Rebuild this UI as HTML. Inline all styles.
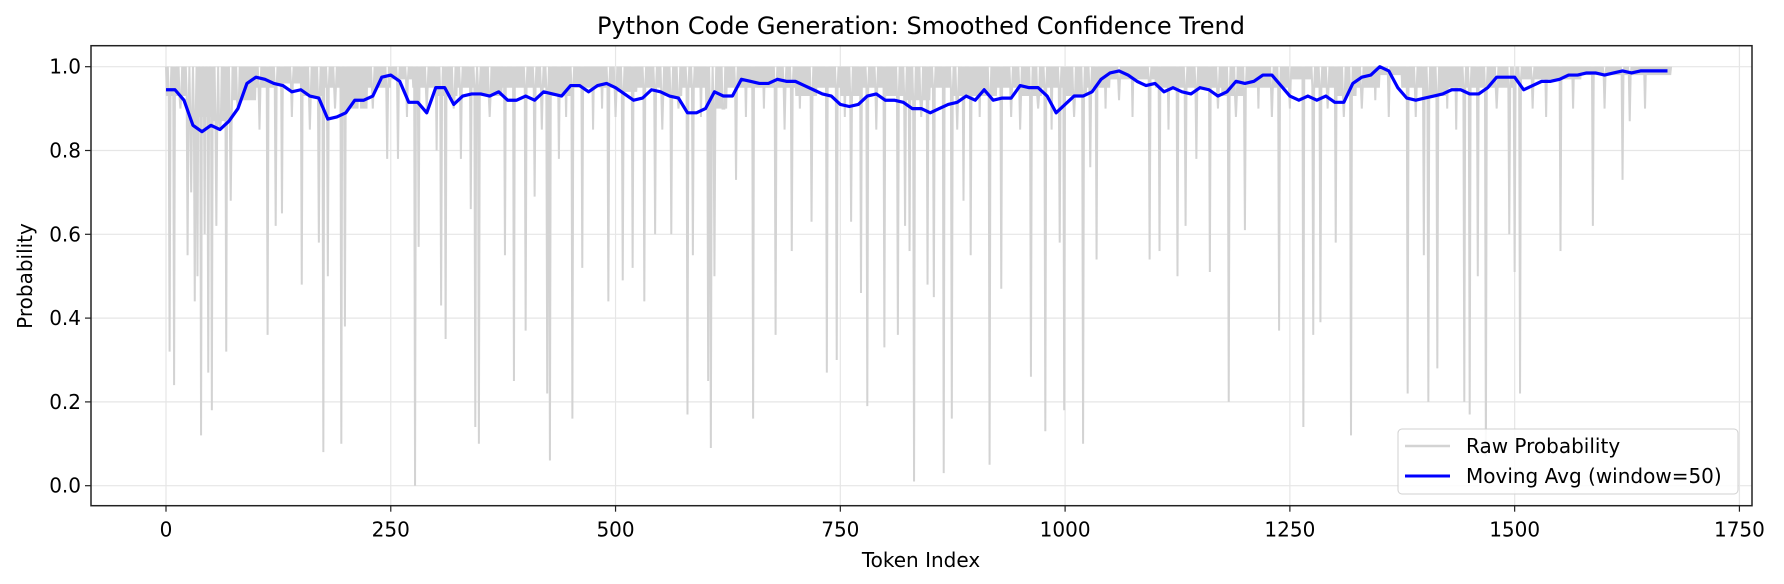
<!DOCTYPE html>
<html><head><meta charset="utf-8"><style>
html,body{margin:0;padding:0;background:#fff;}
svg{display:block;font-family:"DejaVu Sans","Liberation Sans",sans-serif;}
</style></head><body>
<svg id="chart" width="1784" height="584" viewBox="0 0 1784 584">
<text x="921" y="34" text-anchor="middle" font-size="24" fill="#000">Python Code Generation: Smoothed Confidence Trend</text>
<g id="grid"></g>
<g id="plot"></g>
<g id="axes"></g>
<text x="921" y="567" text-anchor="middle" font-size="20">Token Index</text>
<text x="0" y="0" transform="translate(32,276) rotate(-90)" text-anchor="middle" font-size="20">Probability</text>
<g>
<rect x="1398" y="429" width="340" height="65" rx="4" fill="#fff" fill-opacity="0.85" stroke="#d0d0d0"/>
<line x1="1405" y1="446" x2="1450" y2="446" stroke="#d3d3d3" stroke-width="2.5"/>
<text x="1466" y="453" font-size="20">Raw Probability</text>
<line x1="1405" y1="476" x2="1450" y2="476" stroke="#0000ff" stroke-width="3"/>
<text x="1466" y="483" font-size="20">Moving Avg (window=50)</text>
</g>
</svg>
<script>
const tokenCount = 1675;
const dipIndex = [4,9,16,24,28,32,35,39,43,47,51,56,60,67,72,80,95,104,113,122,129,140,151,160,170,175,180,188,195,199,215,230,246,258,268,277,281,290,301,306,311,320,328,339,344,348,360,377,387,400,410,418,424,427,437,445,452,463,475,485,492,500,508,519,532,544,552,562,570,580,586,595,603,606,610,620,634,645,653,665,678,688,696,705,718,735,746,755,762,773,780,790,799,814,822,827,832,840,847,854,865,874,880,887,895,905,916,929,940,950,962,970,978,985,994,999,1010,1020,1028,1035,1045,1060,1075,1094,1105,1115,1125,1134,1146,1161,1170,1182,1190,1200,1215,1230,1238,1250,1265,1276,1284,1292,1301,1310,1318,1330,1345,1360,1381,1390,1399,1404,1414,1425,1435,1444,1450,1459,1468,1480,1494,1500,1506,1520,1535,1551,1565,1587,1600,1620,1628,1645];
const dipValue = [0.32,0.24,0.9,0.55,0.7,0.44,0.5,0.12,0.6,0.27,0.18,0.62,0.85,0.32,0.68,0.9,0.92,0.85,0.36,0.62,0.65,0.88,0.48,0.85,0.58,0.08,0.5,0.9,0.1,0.38,0.92,0.9,0.78,0.78,0.88,0.0,0.57,0.9,0.8,0.43,0.35,0.9,0.78,0.66,0.14,0.1,0.88,0.55,0.25,0.37,0.69,0.85,0.22,0.06,0.78,0.88,0.16,0.52,0.85,0.9,0.44,0.88,0.49,0.52,0.44,0.6,0.85,0.6,0.9,0.17,0.55,0.88,0.25,0.09,0.5,0.9,0.73,0.88,0.16,0.9,0.36,0.85,0.56,0.9,0.63,0.27,0.3,0.88,0.63,0.46,0.19,0.85,0.33,0.36,0.62,0.56,0.01,0.88,0.48,0.45,0.03,0.16,0.85,0.68,0.55,0.88,0.05,0.47,0.88,0.85,0.26,0.9,0.13,0.85,0.58,0.18,0.88,0.1,0.76,0.54,0.9,0.92,0.88,0.54,0.56,0.85,0.5,0.62,0.78,0.51,0.9,0.2,0.88,0.61,0.9,0.88,0.37,0.9,0.14,0.36,0.39,0.9,0.58,0.88,0.12,0.9,0.92,0.88,0.22,0.88,0.55,0.2,0.28,0.9,0.85,0.2,0.17,0.5,0.07,0.9,0.6,0.51,0.22,0.9,0.88,0.56,0.9,0.62,0.9,0.73,0.87,0.9];
const bandStep = 25;
const bandLow = [0.93,0.88,0.87,0.92,0.95,0.96,0.93,0.95,0.9,0.95,0.97,0.95,0.93,0.95,0.93,0.95,0.95,0.93,0.95,0.95,0.94,0.95,0.93,0.95,0.9,0.95,0.95,0.95,0.93,0.95,0.93,0.95,0.93,0.92,0.95,0.93,0.93,0.95,0.93,0.95,0.93,0.95,0.97,0.97,0.95,0.95,0.95,0.93,0.95,0.95,0.97,0.95,0.93,0.95,0.98,0.95,0.93,0.95,0.95,0.95,0.97,0.97,0.97,0.98,0.98,0.98,0.98,0.98];
const maValues = [0.945,0.945,0.92,0.86,0.845,0.86,0.85,0.87,0.9,0.96,0.975,0.97,0.96,0.955,0.94,0.945,0.93,0.925,0.875,0.88,0.89,0.92,0.92,0.93,0.975,0.98,0.965,0.915,0.915,0.89,0.95,0.95,0.91,0.93,0.935,0.935,0.93,0.94,0.92,0.92,0.93,0.92,0.94,0.935,0.93,0.955,0.955,0.94,0.955,0.96,0.95,0.935,0.92,0.925,0.945,0.94,0.93,0.925,0.89,0.89,0.9,0.94,0.93,0.93,0.97,0.965,0.96,0.96,0.97,0.965,0.965,0.955,0.945,0.935,0.93,0.91,0.905,0.91,0.93,0.935,0.92,0.92,0.915,0.9,0.9,0.89,0.9,0.91,0.915,0.93,0.92,0.945,0.92,0.925,0.925,0.955,0.95,0.95,0.93,0.89,0.91,0.93,0.93,0.94,0.97,0.985,0.99,0.98,0.965,0.955,0.96,0.94,0.95,0.94,0.935,0.95,0.945,0.93,0.94,0.965,0.96,0.965,0.98,0.98,0.955,0.93,0.92,0.93,0.92,0.93,0.915,0.915,0.96,0.975,0.98,1.0,0.99,0.95,0.925,0.92,0.925,0.93,0.935,0.945,0.945,0.935,0.935,0.95,0.975,0.975,0.975,0.945,0.955,0.965,0.965,0.97,0.98,0.98,0.985,0.985,0.98,0.985,0.99,0.985,0.99,0.99,0.99,0.99];
const maStep = 10;
const xTicks = [0,250,500,750,1000,1250,1500,1750];
const yTicks = [0.0,0.2,0.4,0.6,0.8,1.0];

const L=91,R=1752,T=45.7,B=505.7;
const xS = v => 166 + v*0.8991;
const yS = v => 485.7 - v*419;
const NS='http://www.w3.org/2000/svg';
function mk(tag, attrs, parent){const e=document.createElementNS(NS,tag);for(const k in attrs)e.setAttribute(k,attrs[k]);parent.appendChild(e);return e;}
const grid=document.getElementById('grid'), plot=document.getElementById('plot'), axes=document.getElementById('axes');
xTicks.forEach(t=>{
  const g=mk('line',{x1:xS(t),x2:xS(t),y1:T,y2:B,stroke:'#e6e6e6','stroke-width':1.2},grid);
  
  
  const tk=mk('line',{x1:xS(t),x2:xS(t),y1:B,y2:B+6,stroke:'#222','stroke-width':1.2},axes);
  
  
  const tx=mk('text',{x:xS(t),y:B+31,'text-anchor':'middle','font-size':20},axes);
  tx.textContent=t;
  
  
});
yTicks.forEach(t=>{
  const g=mk('line',{x1:L,x2:R,y1:yS(t),y2:yS(t),stroke:'#e6e6e6','stroke-width':1.2},grid);
  
  
  const tk=mk('line',{x1:L-6,x2:L,y1:yS(t),y2:yS(t),stroke:'#222','stroke-width':1.2},axes);
  
  
  const tx=mk('text',{x:L-10,y:yS(t)+7,'text-anchor':'end','font-size':20},axes);
  tx.textContent=t.toFixed(1);
  
  
});
const raw=[];
for(let i=0;i<tokenCount;i++){ raw.push(i%2 ? bandLow[Math.floor(i/bandStep)] : 1.0); }
dipIndex.forEach((i,k)=>{raw[i]=dipValue[k];});
let d='';
raw.forEach((v,i)=>{d+=(i?'L':'M')+xS(i).toFixed(2)+','+yS(v).toFixed(2);});
const rp=mk('path',{d:d,fill:'none',stroke:'#d3d3d3','stroke-width':2,'stroke-linejoin':'miter'},plot);


let m='';
maValues.forEach((v,k)=>{m+=(k?'L':'M')+xS(k*maStep).toFixed(2)+','+yS(v).toFixed(2);});
const mp=mk('path',{d:m,fill:'none',stroke:'#0000ff','stroke-width':3.2,'stroke-linejoin':'round'},plot);


const fr=mk('rect',{x:L,y:T,width:R-L,height:B-T,fill:'none',stroke:'#222','stroke-width':1.5},axes);


</script>
</body></html>
